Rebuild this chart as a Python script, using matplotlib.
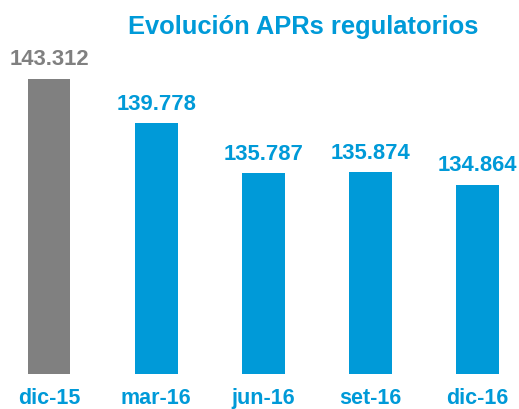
import matplotlib
matplotlib.use("Agg")
import matplotlib.pyplot as plt

periods = ["dic-15", "mar-16", "jun-16", "set-16", "dic-16"]
aprs = [143.312, 139.778, 135.787, 135.874, 134.864]
value_labels = ["143.312", "139.778", "135.787", "135.874", "134.864"]

GRAY = "#808080"
BLUE = "#009AD8"
bar_colors = [GRAY, BLUE, BLUE, BLUE, BLUE]

plt.rcParams["font.family"] = ["Liberation Sans", "DejaVu Sans"]

fig = plt.figure(figsize=(5.19, 4.10), dpi=100)
ax = fig.add_axes([0.0, 1 - 375 / 410, 1.0, (375 - 80) / 410])

x = list(range(len(periods)))
ax.bar(x, aprs, width=0.40, color=bar_colors, bottom=0)
ax.set_ylim(119.8, 143.312)
ax.set_xlim(-0.4575, 4.388)

for xi, v, lab, c in zip(x, aprs, value_labels, bar_colors):
    ax.annotate(lab, (xi, v), xytext=(0, 7), textcoords="offset points",
                ha="center", va="bottom", fontsize=15.8, fontweight="bold", color=c)

ax.set_xticks(x)
ax.set_xticklabels(periods, fontsize=15.5, fontweight="bold", color=BLUE)
ax.tick_params(axis="x", length=0, pad=9.5)
ax.set_yticks([])
for s in ax.spines.values():
    s.set_visible(False)

fig.text(303 / 519, 1 - 27 / 410, "Evolución APRs regulatorios", ha="center", va="center",
         fontsize=18.4, fontweight="bold", color=BLUE)

fig.savefig("out.png", dpi=100)
